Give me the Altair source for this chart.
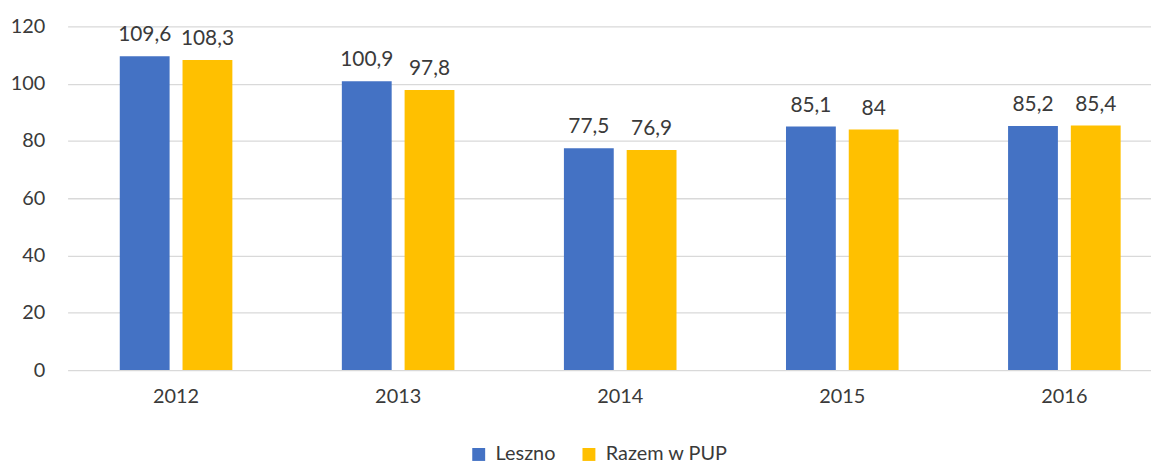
import altair as alt
import pandas as pd

years = ["2012", "2013", "2014", "2015", "2016"]
leszno = [109.6, 100.9, 77.5, 85.1, 85.2]
razem = [108.3, 97.8, 76.9, 84.0, 85.4]
series = ["Leszno", "Razem w PUP"]
colors = ["#4472C4", "#FFC000"]

rows = []
for y, a, b in zip(years, leszno, razem):
    rows.append({"rok": y, "seria": series[0], "v": a})
    rows.append({"rok": y, "seria": series[1], "v": b})
df = pd.DataFrame(rows)
df["lab"] = df["v"].map(lambda v: (f"{v:g}").replace(".", ","))

FONT = "Lato"
TXT = "#3A3A3A"

x = alt.X("rok:N", sort=years, title=None,
          scale=alt.Scale(range=[0, 1113], paddingInner=0.493, paddingOuter=0.235),
          axis=alt.Axis(labelAngle=0, ticks=False, domain=False, labelPadding=17,
                        labelFontSize=20, labelFont=FONT, labelColor=TXT))
xo = alt.XOffset("seria:N", sort=series, scale=alt.Scale(paddingInner=0.206, paddingOuter=0))
y = alt.Y("v:Q", title=None,
          scale=alt.Scale(domain=[0, 120], nice=False),
          axis=alt.Axis(values=[0, 20, 40, 60, 80, 100, 120], ticks=False, domain=False,
                        labelPadding=23, labelFontSize=20, labelFont=FONT,
                        labelColor=TXT, gridColor="#D9D9D9", gridWidth=1.3))

base = alt.Chart(df)
bars = base.mark_bar().encode(
    x=x, xOffset=xo, y=y,
    color=alt.Color("seria:N", sort=series, title=None,
                    scale=alt.Scale(domain=series, range=colors),
                    legend=alt.Legend(orient="none", legendX=404, legendY=421,
                                      direction="horizontal", symbolType="square",
                                      symbolSize=169, symbolStrokeWidth=0,
                                      labelFontSize=20, labelFont=FONT,
                                      labelColor=TXT, columnPadding=23,
                                      labelOffset=7)),
)
labels = base.mark_text(baseline="alphabetic", dy=-15, fontSize=21, font=FONT,
                        color=TXT).encode(
    x=alt.X("rok:N", sort=years), xOffset=xo, y="v:Q", text="lab:N")

chart = alt.layer(bars, labels).properties(
    width=1091, height=346,
    autosize=alt.AutoSizeParams(type="none"),
    padding={"left": 60, "top": 17, "right": 0, "bottom": 94},
).configure(background="white").configure_view(strokeWidth=0)

chart.save("out.html", embed_options={"renderer": "svg", "actions": False})
